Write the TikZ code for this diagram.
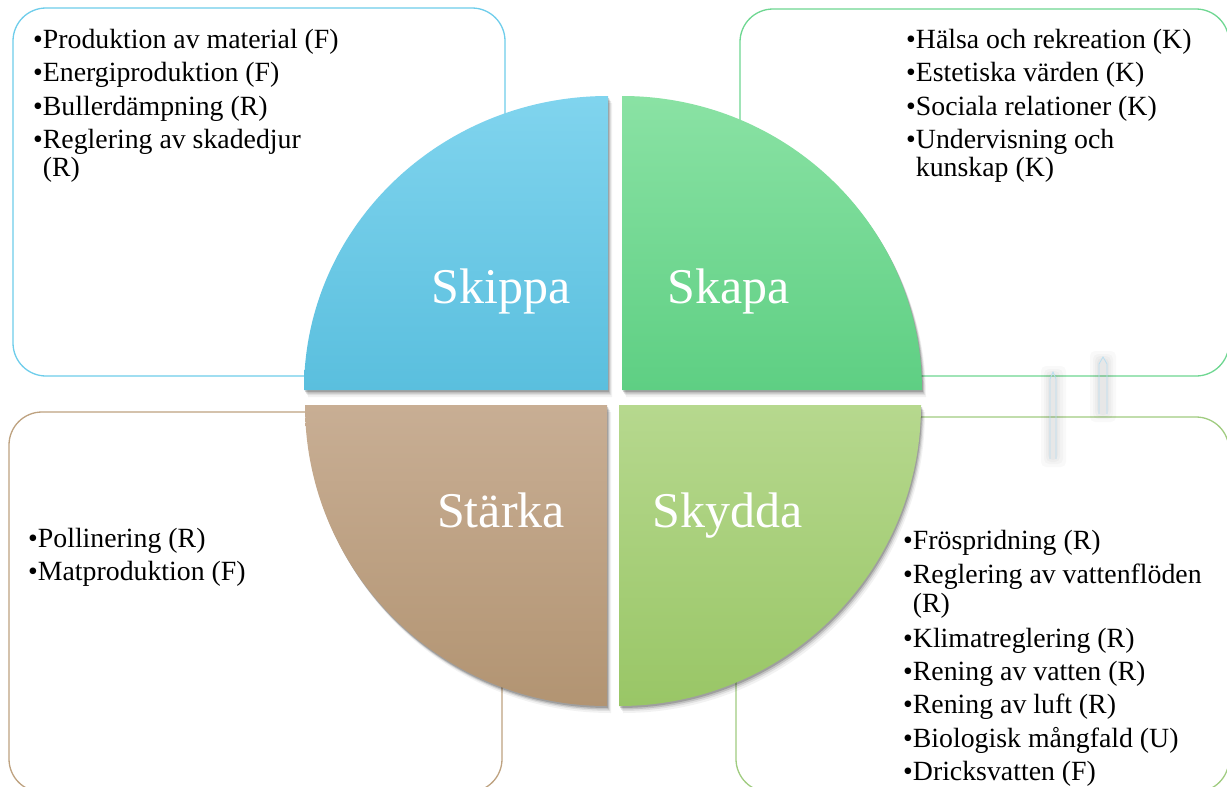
\documentclass[tikz,border=0pt]{standalone}
\usepackage{fontspec}
\setmainfont{Liberation Serif}
\definecolor{skipT}{RGB}{128,212,238}
\definecolor{skipB}{RGB}{90,191,222}
\definecolor{skapT}{RGB}{138,226,164}
\definecolor{skapB}{RGB}{94,207,131}
\definecolor{starT}{RGB}{200,174,148}
\definecolor{starB}{RGB}{178,148,114}
\definecolor{skydT}{RGB}{182,216,142}
\definecolor{skydB}{RGB}{153,198,102}
\definecolor{lnBlue}{RGB}{110,205,235}
\definecolor{lnGreen}{RGB}{110,215,145}
\definecolor{lnTan}{RGB}{190,162,128}
\definecolor{lnLime}{RGB}{160,204,128}
\definecolor{glitch}{RGB}{185,222,240}
\newcommand\qSkippa[1]{\path[#1] (608,-390) -- (304,-390) arc[start angle=180,end angle=90,x radius=304,y radius=294] -- cycle;}
\newcommand\qSkapa[1]{\path[#1] (622,-390) -- (622,-96) arc[start angle=90,end angle=0,x radius=300,y radius=294] -- cycle;}
\newcommand\qStarka[1]{\path[#1] (607,-405) -- (607,-706) arc[start angle=270,end angle=180,x radius=302,y radius=301] -- cycle;}
\newcommand\qSkydda[1]{\path[#1] (619,-405) -- (921,-405) arc[start angle=0,end angle=-90,x radius=302,y radius=301] -- cycle;}
\newcommand\qShadow[1]{%
  #1{fill=black,opacity=.05,shift={(4,-7)}}%
  #1{fill=black,opacity=.08,shift={(3,-5)}}%
  #1{fill=black,opacity=.13,shift={(2,-3.5)}}%
  #1{fill=black,opacity=.18,shift={(1,-2)}}}
\tikzset{
  boxline/.style={rounded corners=33pt,line width=1.3pt},
  itemtext/.style={inner sep=0pt,anchor=base west,text=black,font=\fontsize{27.8}{33}\selectfont},
  quadlabel/.style={inner sep=0pt,anchor=base,text=white,font=\fontsize{50}{60}\selectfont},
  glow/.style={fill=black,opacity=.025,rounded corners=5pt},
}
\begin{document}
\begin{tikzpicture}[x=1pt,y=1pt]
\useasboundingbox (0,0) rectangle (1227,-787);
\fill[white] (0,0) rectangle (1227,-787);
% text boxes
\draw[boxline,draw=lnBlue] (13,-8) rectangle (505,-376);
\draw[boxline,draw=lnGreen] (740,-9) rectangle (1229,-376);
\draw[boxline,draw=lnTan] (9,-412) rectangle (502,-792);
\draw[boxline,draw=lnLime] (736,-417) rectangle (1229,-792);
% stray marks
\fill[glow] (1041,-366) rectangle (1066,-467);
\fill[glow] (1044,-369) rectangle (1063,-464);
\fill[glow] (1046,-371) rectangle (1060,-462);
\fill[glow] (1048,-373) rectangle (1058,-460);
\fill[glow] (1090,-351) rectangle (1116,-422);
\fill[glow] (1093,-354) rectangle (1113,-419);
\fill[glow] (1095,-356) rectangle (1111,-417);
\fill[glow] (1097,-358) rectangle (1109,-415);
\draw[glitch,line width=0.8pt] (1050,-459) -- (1050,-379) -- (1053,-372) -- (1056,-379) -- (1056,-459);
\draw[glitch,line width=0.8pt] (1099,-414) -- (1099,-364) -- (1103,-357) -- (1107,-364) -- (1107,-414);
% quadrants
\qShadow\qSkippa
\qShadow\qSkapa
\qShadow\qStarka
\qShadow\qSkydda
\qSkippa{top color=skipT,bottom color=skipB}
\qSkapa{top color=skapT,bottom color=skapB}
\qStarka{top color=starT,bottom color=starB}
\qSkydda{top color=skydT,bottom color=skydB}
\node[quadlabel] (lSkippa) at (501,-303) {Skippa};
\node[quadlabel] (lSkapa) at (729,-303) {Skapa};
\node[quadlabel] (lStarka) at (501,-527) {Stärka};
\node[quadlabel] (lSkydda) at (727.5,-527) {Skydda};
% top-left list
\node[itemtext] (a1) at (33,-48) {\textbullet Produktion av material (F)};
\node[itemtext] (a2) at (33,-81.5) {\textbullet Energiproduktion (F)};
\node[itemtext] (a3) at (33,-115) {\textbullet Bullerdämpning (R)};
\node[itemtext] (a4) at (33,-148) {\textbullet Reglering av skadedjur};
\node[itemtext] (a4b) at (42.7,-176.5) {(R)};
% top-right list
\node[itemtext] (b1) at (906,-48) {\textbullet Hälsa och rekreation (K)};
\node[itemtext] (b2) at (906,-81.5) {\textbullet Estetiska värden (K)};
\node[itemtext] (b3) at (906,-115) {\textbullet Sociala relationer (K)};
\node[itemtext] (b4) at (906,-148) {\textbullet Undervisning och};
\node[itemtext] (b4b) at (915.7,-176.5) {kunskap (K)};
% bottom-left list
\node[itemtext] (c1) at (28,-547) {\textbullet Pollinering (R)};
\node[itemtext] (c2) at (28,-580) {\textbullet Matproduktion (F)};
% bottom-right list
\node[itemtext] (d1) at (903,-549) {\textbullet Fröspridning (R)};
\node[itemtext] (d2) at (903,-583) {\textbullet Reglering av vattenflöden};
\node[itemtext] (d2b) at (912.7,-612) {(R)};
\node[itemtext] (d3) at (903,-647) {\textbullet Klimatreglering (R)};
\node[itemtext] (d4) at (903,-680) {\textbullet Rening av vatten (R)};
\node[itemtext] (d5) at (903,-713) {\textbullet Rening av luft (R)};
\node[itemtext] (d6) at (903,-747) {\textbullet Biologisk mångfald (U)};
\node[itemtext] (d7) at (903,-780) {\textbullet Dricksvatten (F)};
\end{tikzpicture}
\end{document}
